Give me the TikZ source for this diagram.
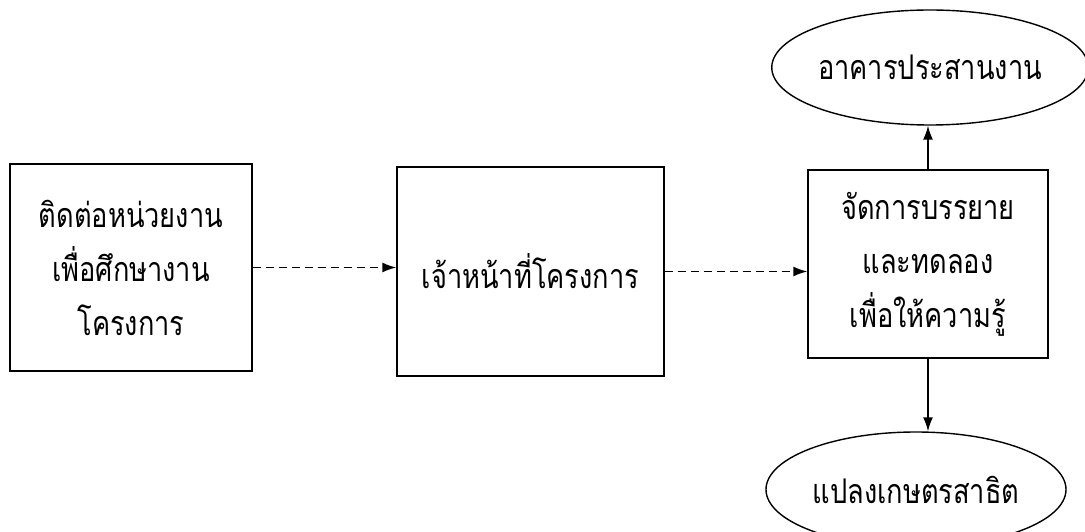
\documentclass[tikz,border=0pt]{standalone}
\usepackage{fontspec}
\newfontfamily\thaifont[Script=Thai, FakeStretch=0.8]{Loma}
\usetikzlibrary{shapes.geometric, arrows.meta}
\begin{document}
\begin{tikzpicture}[>={Latex[length=14pt,width=10pt]}, x=1pt, y=1pt,
  box/.style={draw, line width=1.4pt, inner sep=0pt, align=center,
    font=\thaifont\fontsize{34}{54}\selectfont},
  oval/.style={draw, ellipse, line width=1.4pt, inner sep=0pt,
    font=\thaifont\fontsize{34}{54}\selectfont},
  link/.style={->, line width=1.5pt}]
\useasboundingbox (0,0) rectangle (1085,531);
\node[box, minimum width=242, minimum height=207] (contact) at (131,263.5) {ติดต่อหน่วยงาน\\เพื่อศึกษางาน\\โครงการ};
\node[box, minimum width=267, minimum height=209] (staff) at (530.5,259.5) {เจ้าหน้าที่โครงการ};
\node[box, minimum width=240, minimum height=188] (lecture) at (928,267) {จัดการบรรยาย\\และทดลอง\\เพื่อให้ความรู้};
\node[oval, minimum width=296, minimum height=115] (office) at (930,463.5) {อาคารประสานงาน};
\node[oval, minimum width=300, minimum height=115] (farm) at (916,41.5) {แปลงเกษตรสาธิต};
% connectors
\draw[link, dash pattern=on 8pt off 5pt](contact.east)--(staff.west |- contact.east);
\draw[link, dash pattern=on 8pt off 5pt](staff.east)--(lecture.west |- staff.east);
\draw[link](lecture.north)--(lecture.north |- office.south);
\draw[link](lecture.south)--(lecture.south |- farm.north);
\end{tikzpicture}
\end{document}
